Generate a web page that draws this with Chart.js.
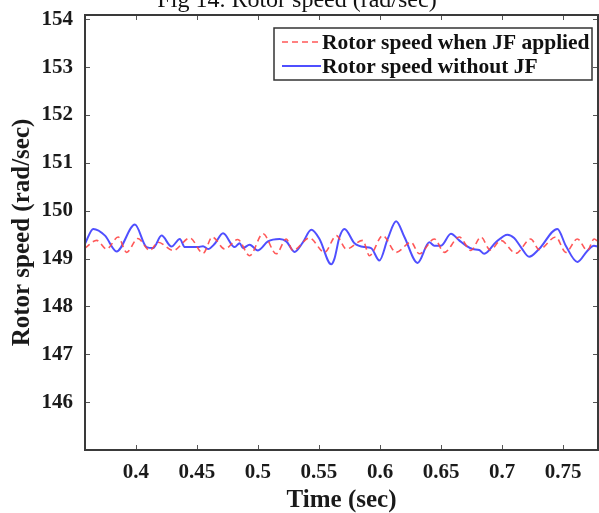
<!DOCTYPE html>
<html>
<head>
<meta charset="utf-8">
<script src="https://cdn.jsdelivr.net/npm/chart.js@4.4.0/dist/chart.umd.min.js"></script>
<style>
  html, body { margin: 0; padding: 0; background: #fff; }
  #wrap { width: 599px; height: 513px; }
</style>
</head>
<body>
<div id="wrap"><canvas id="speedChart" width="599" height="513"></canvas></div>
<script>
// values
const xTicks = [0.4, 0.45, 0.5, 0.55, 0.6, 0.65, 0.7, 0.75];
const yTicks = [146, 147, 148, 149, 150, 151, 152, 153, 154];

// rotor speed with JF applied (red dashed)
const jfTime = [0.3583, 0.3679, 0.3760, 0.3855, 0.3924, 0.4016, 0.4114, 0.4182, 0.4305, 0.4442,
    0.4550, 0.4626, 0.4728, 0.4834, 0.4932, 0.5041, 0.5150, 0.5232, 0.5286, 0.5423,
    0.5545, 0.5643, 0.5723, 0.5859, 0.5913, 0.6022, 0.6132, 0.6254, 0.6322, 0.6445,
    0.6527, 0.6649, 0.6745, 0.6827, 0.6903, 0.6990, 0.7113, 0.7235, 0.7303, 0.7440,
    0.7522, 0.7617, 0.7698, 0.7755, 0.7786];
const jfSpeed = [149.22, 149.38, 149.20, 149.45, 149.13, 149.42, 149.17, 149.34, 149.17, 149.43,
    149.11, 149.45, 149.20, 149.40, 149.06, 149.52, 149.10, 149.41, 149.17, 149.43,
    149.13, 149.48, 149.20, 149.38, 149.06, 149.48, 149.13, 149.34, 149.10, 149.41,
    149.13, 149.45, 149.17, 149.45, 149.18, 149.38, 149.11, 149.41, 149.19, 149.45,
    149.13, 149.41, 149.17, 149.41, 149.35];

// rotor speed without JF (blue solid)
const noJfTime = [0.3583, 0.3651, 0.3747, 0.3842, 0.3992, 0.4087, 0.4141, 0.4210, 0.4292, 0.4360,
    0.4401, 0.4509, 0.4550, 0.4591, 0.4646, 0.4714, 0.4809, 0.4850, 0.4877, 0.4932,
    0.5000, 0.5082, 0.5177, 0.5232, 0.5300, 0.5368, 0.5437, 0.5504, 0.5600, 0.5627,
    0.5668, 0.5709, 0.5791, 0.5872, 0.5927, 0.5995, 0.6063, 0.6132, 0.6200, 0.6308,
    0.6404, 0.6445, 0.6500, 0.6581, 0.6649, 0.6704, 0.6758, 0.6813, 0.6854, 0.6949,
    0.7044, 0.7099, 0.7154, 0.7222, 0.7303, 0.7453, 0.7522, 0.7617, 0.7698, 0.7753,
    0.7786];
const noJfSpeed = [149.31, 149.62, 149.48, 149.15, 149.71, 149.24, 149.22, 149.48, 149.25, 149.41,
    149.24, 149.24, 149.26, 149.20, 149.31, 149.53, 149.24, 149.32, 149.22, 149.29,
    149.17, 149.36, 149.41, 149.36, 149.14, 149.34, 149.60, 149.41, 148.88, 149.00,
    149.45, 149.62, 149.32, 149.24, 149.22, 148.96, 149.41, 149.78, 149.45, 148.91,
    149.34, 149.27, 149.27, 149.52, 149.38, 149.27, 149.20, 149.18, 149.10, 149.34,
    149.50, 149.43, 149.24, 149.04, 149.20, 149.62, 149.27, 148.93, 149.16, 149.27,
    149.25];

const seriesNames = ['Rotor speed when JF applied', 'Rotor speed without JF'];

const toPoints = (xs, ys) => xs.map((x, i) => ({ x: x, y: ys[i] }));

// MATLAB style frame, inward ticks, title and boxed legend
const matlabLook = {
    id: 'matlabLook',
    afterDraw(chart) {
        const ctx = chart.ctx;
        const area = chart.chartArea;
        const xs = chart.scales.x;
        const ys = chart.scales.y;
        ctx.save();

        // inward ticks on all four sides
        ctx.strokeStyle = '#555';
        ctx.lineWidth = 1;
        ctx.beginPath();
        xTicks.forEach(v => {
            const px = Math.round(xs.getPixelForValue(v)) + 0.5;
            ctx.moveTo(px, area.bottom); ctx.lineTo(px, area.bottom - 5);
            ctx.moveTo(px, area.top); ctx.lineTo(px, area.top + 5);
        });
        yTicks.forEach(v => {
            const py = Math.round(ys.getPixelForValue(v)) + 0.5;
            ctx.moveTo(area.left, py); ctx.lineTo(area.left + 5, py);
            ctx.moveTo(area.right, py); ctx.lineTo(area.right - 5, py);
        });
        ctx.stroke();

        // axes box
        ctx.strokeStyle = '#3a3a3a';
        ctx.lineWidth = 2;
        ctx.strokeRect(area.left, area.top, area.right - area.left, area.bottom - area.top);

        // figure caption, cut off at the top
        ctx.fillStyle = '#111';
        ctx.font = '24px "Liberation Serif"';
        ctx.textAlign = 'center';
        ctx.textBaseline = 'alphabetic';
        ctx.fillText('Fig 14. Rotor speed (rad/sec)', 297, 7);

        // legend
        const lx = 274, ly = 28, lw = 318, lh = 52;
        ctx.fillStyle = '#fff';
        ctx.fillRect(lx, ly, lw, lh);
        ctx.strokeStyle = '#333';
        ctx.lineWidth = 1.5;
        ctx.strokeRect(lx, ly, lw, lh);

        chart.data.datasets.forEach((ds, i) => {
            const y = ly + 14 + i * 24;
            ctx.strokeStyle = ds.borderColor;
            ctx.lineWidth = ds.borderWidth;
            ctx.setLineDash(ds.borderDash || []);
            ctx.beginPath();
            ctx.moveTo(lx + 8, y);
            ctx.lineTo(lx + 47, y);
            ctx.stroke();
            ctx.setLineDash([]);
            ctx.fillStyle = '#111';
            ctx.font = 'bold 21.5px "Liberation Serif"';
            ctx.textAlign = 'left';
            ctx.textBaseline = 'middle';
            ctx.fillText(ds.label, lx + 48, y + 1);
        });
        ctx.restore();
    }
};

var ctxSpeed = document.getElementById('speedChart').getContext('2d');
var speedChart = new Chart(ctxSpeed, {
    type: 'scatter',
    data: {
        datasets: [{
            label: seriesNames[0],
            data: toPoints(jfTime, jfSpeed),
            showLine: true,
            borderColor: 'rgba(255, 70, 70, 0.9)',
            borderWidth: 1.6,
            borderDash: [6, 4],
            pointRadius: 0,
            cubicInterpolationMode: 'monotone'
        }, {
            label: seriesNames[1],
            data: toPoints(noJfTime, noJfSpeed),
            showLine: true,
            borderColor: 'rgba(60, 60, 255, 0.9)',
            borderWidth: 2,
            pointRadius: 0,
            cubicInterpolationMode: 'monotone'
        }]
    },
    options: {
        responsive: false,
        animation: false,
        devicePixelRatio: 1,
        layout: { padding: { top: 15, right: 1, left: 0, bottom: 0 } },
        plugins: {
            legend: { display: false },
            tooltip: { enabled: false }
        },
        scales: {
            x: {
                type: 'linear',
                min: 0.3583,
                max: 0.7786,
                afterBuildTicks: axis => { axis.ticks = xTicks.map(v => ({ value: v })); },
                afterFit: axis => {
                    axis.height = 63;
                    axis.paddingLeft = 0;
                    axis.paddingRight = 0;
                },
                grid: { display: false, drawTicks: false },
                border: { display: false },
                ticks: {
                    padding: 10,
                    color: '#1a1a1a',
                    font: { family: 'Liberation Serif', size: 21, weight: 'bold' },
                    callback: v => String(v)
                },
                title: {
                    display: true,
                    text: 'Time (sec)',
                    color: '#1a1a1a',
                    font: { family: 'Liberation Serif', size: 25, weight: 'bold' },
                    padding: { top: 0, bottom: -3 }
                }
            },
            y: {
                min: 145,
                max: 154.09,
                afterBuildTicks: axis => { axis.ticks = yTicks.map(v => ({ value: v })); },
                afterFit: axis => {
                    axis.width = 85;
                    axis.paddingTop = 0;
                    axis.paddingBottom = 0;
                },
                grid: { display: false, drawTicks: false },
                border: { display: false },
                ticks: {
                    padding: 12,
                    color: '#1a1a1a',
                    font: { family: 'Liberation Serif', size: 21, weight: 'bold' },
                    callback: v => String(v)
                },
                title: {
                    display: true,
                    text: 'Rotor speed (rad/sec)',
                    color: '#1a1a1a',
                    font: { family: 'Liberation Serif', size: 25, weight: 'bold' },
                    padding: { top: 8, bottom: 0 }
                }
            }
        }
    },
    plugins: [matlabLook]
});
</script>
</body>
</html>
